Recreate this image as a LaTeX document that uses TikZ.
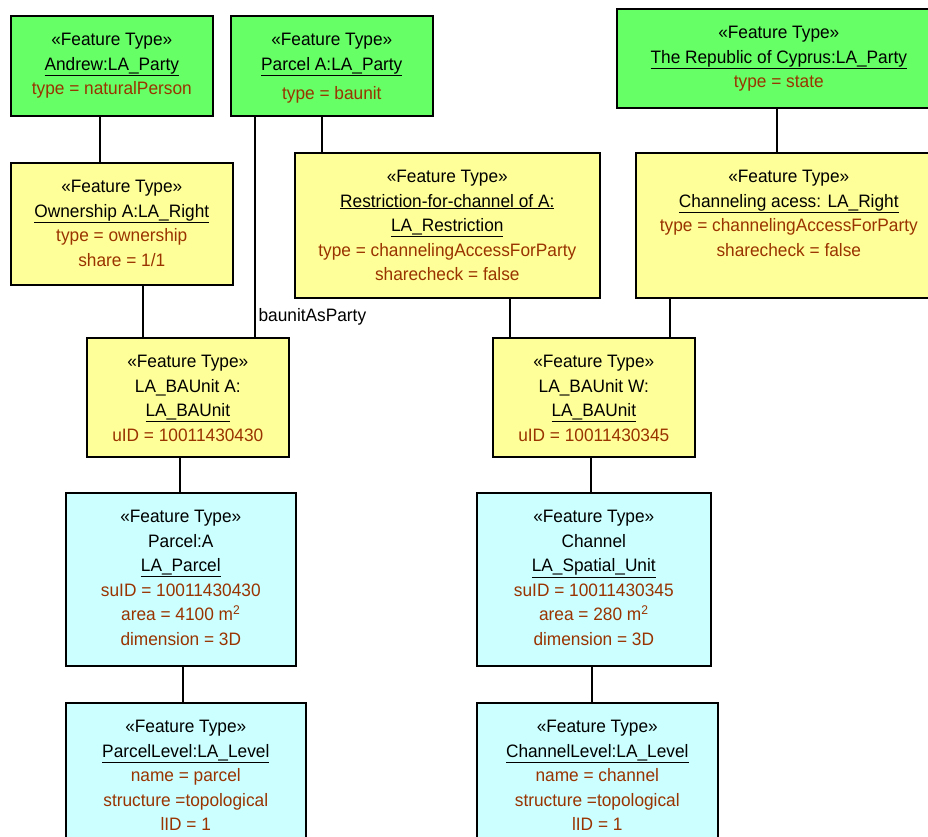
\documentclass[tikz,border=0pt]{standalone}
\usepackage{fontspec}
\newfontfamily\umlfont{Liberation Sans}[FakeStretch=0.96]
\usetikzlibrary{positioning}
\definecolor{partygreen}{HTML}{66FF66}
\definecolor{rightyellow}{HTML}{FFFF99}
\definecolor{unitcyan}{HTML}{CCFFFF}
\definecolor{attrbrown}{HTML}{993300}
\newcommand{\attr}[1]{\textcolor{attrbrown}{#1}}
\newcommand{\stereo}{«Feature Type»}

\begin{document}
\begin{tikzpicture}[x=1pt,y=-1pt]
\tikzstyle{every node}+=[inner sep=0pt]
\tikzstyle{box}=[draw=black, line width=1.6pt, anchor=north west]
\tikzstyle{party}=[box, fill=partygreen]
\tikzstyle{rrr}=[box, fill=rightyellow]
\tikzstyle{unit}=[box, fill=unitcyan]
\tikzstyle{txt}=[align=center, font=\umlfont\fontsize{18}{24.5}\selectfont]
\tikzstyle{link}=[line width=1.2pt]
\useasboundingbox (0,0) rectangle (928,836);
\clip (0,0) rectangle (928,836);
% parties
\node[party, minimum width=202pt, minimum height=100pt] (andrew) at (10,15) {};
\node[txt, below=18pt of andrew.north] (andrew-t) {\stereo\\ \underline{Andrew:LA\_Party}\\ \attr{type = naturalPerson}};
\node[party, minimum width=202pt, minimum height=100pt] (pparty) at (230,15) {};
\node[txt, below=18pt of pparty.north] (pparty-t) {\stereo\\ \underline{Parcel A:LA\_Party}\\[5pt] \attr{type = baunit}};
\node[party, minimum width=324pt, minimum height=99pt] (cyprus) at (616,8) {};
\node[txt, below=18pt of cyprus.north] (cyprus-t) {\stereo\\ \underline{The Republic of Cyprus:LA\_Party}\\ \attr{type = state}};
% rights and restrictions
\node[rrr, minimum width=222pt, minimum height=122pt] (own) at (10,162) {};
\node[txt, below=18pt of own.north] (own-t) {\stereo\\ \underline{Ownership A:LA\_Right}\\ \attr{type = ownership}\\ \attr{share = 1/1}};
\node[rrr, minimum width=305pt, minimum height=145pt] (restr) at (294,152) {};
\node[txt, below=18pt of restr.north] (restr-t) {\stereo\\ \underline{Restriction-for-channel of A:}\\ \underline{LA\_Restriction}\\ \attr{type = channelingAccessForParty}\\ \attr{sharecheck = false}};
\node[rrr, minimum width=306pt, minimum height=145pt] (chan) at (635,152) {};
\node[txt, below=18pt of chan.north] (chan-t) {\stereo\\ \underline{Channeling acess: LA\_Right}\\ \attr{type = channelingAccessForParty}\\ \attr{sharecheck = false}};
% basic administrative units
\node[rrr, minimum width=202pt, minimum height=119pt] (bauA) at (86,337) {};
\node[txt, below=18pt of bauA.north] (bauA-t) {\stereo\\ LA\_BAUnit A:\\ \underline{LA\_BAUnit}\\ \attr{uID = 10011430430}};
\node[rrr, minimum width=202pt, minimum height=119pt] (bauW) at (492,337) {};
\node[txt, below=18pt of bauW.north] (bauW-t) {\stereo\\ LA\_BAUnit W:\\ \underline{LA\_BAUnit}\\ \attr{uID = 10011430345}};
% spatial units
\node[unit, minimum width=230pt, minimum height=173pt] (parcel) at (65,492) {};
\node[txt, below=18pt of parcel.north] (parcel-t) {\stereo\\ Parcel:A\\ \underline{LA\_Parcel}\\ \attr{suID = 10011430430}\\ \attr{area = 4100 m\textsuperscript{2}}\\ \attr{dimension = 3D}};
\node[unit, minimum width=234pt, minimum height=173pt] (channel) at (476,492) {};
\node[txt, below=18pt of channel.north] (channel-t) {\stereo\\ Channel\\ \underline{LA\_Spatial\_Unit}\\ \attr{suID = 10011430345}\\ \attr{area = 280 m\textsuperscript{2}}\\ \attr{dimension = 3D}};
% levels
\node[unit, minimum width=240pt, minimum height=150pt] (plevel) at (65,702) {};
\node[txt, below=18pt of plevel.north] (plevel-t) {\stereo\\ \underline{ParcelLevel:LA\_Level}\\ \attr{name = parcel}\\ \attr{structure =topological}\\ \attr{lID = 1}};
\node[unit, minimum width=241pt, minimum height=150pt] (clevel) at (476,702) {};
\node[txt, below=18pt of clevel.north] (clevel-t) {\stereo\\ \underline{ChannelLevel:LA\_Level}\\ \attr{name = channel}\\ \attr{structure =topological}\\ \attr{lID = 1}};
% associations
\draw[link] (andrew.south -| 100,0) -- (own.north -| 100,0);
\draw[link] (pparty.south -| 255,0) -- node[pos=0.91, right=3pt, txt] (asparty) {baunitAsParty} (bauA.north -| 255,0);
\draw[link] (pparty.south -| 322,0) -- (restr.north -| 322,0);
\draw[link] (cyprus.south -| 777,0) -- (chan.north -| 777,0);
\draw[link] (own.south -| 143,0) -- (bauA.north -| 143,0);
\draw[link] (restr.south -| 510,0) -- (bauW.north -| 510,0);
\draw[link] (chan.south -| 670,0) -- (bauW.north -| 670,0);
\draw[link] (bauA.south -| 180,0) -- (parcel.north -| 180,0);
\draw[link] (bauW.south -| 591,0) -- (channel.north -| 591,0);
\draw[link] (parcel.south -| 183,0) -- (plevel.north -| 183,0);
\draw[link] (channel.south -| 592,0) -- (clevel.north -| 592,0);
\end{tikzpicture}
\end{document}
